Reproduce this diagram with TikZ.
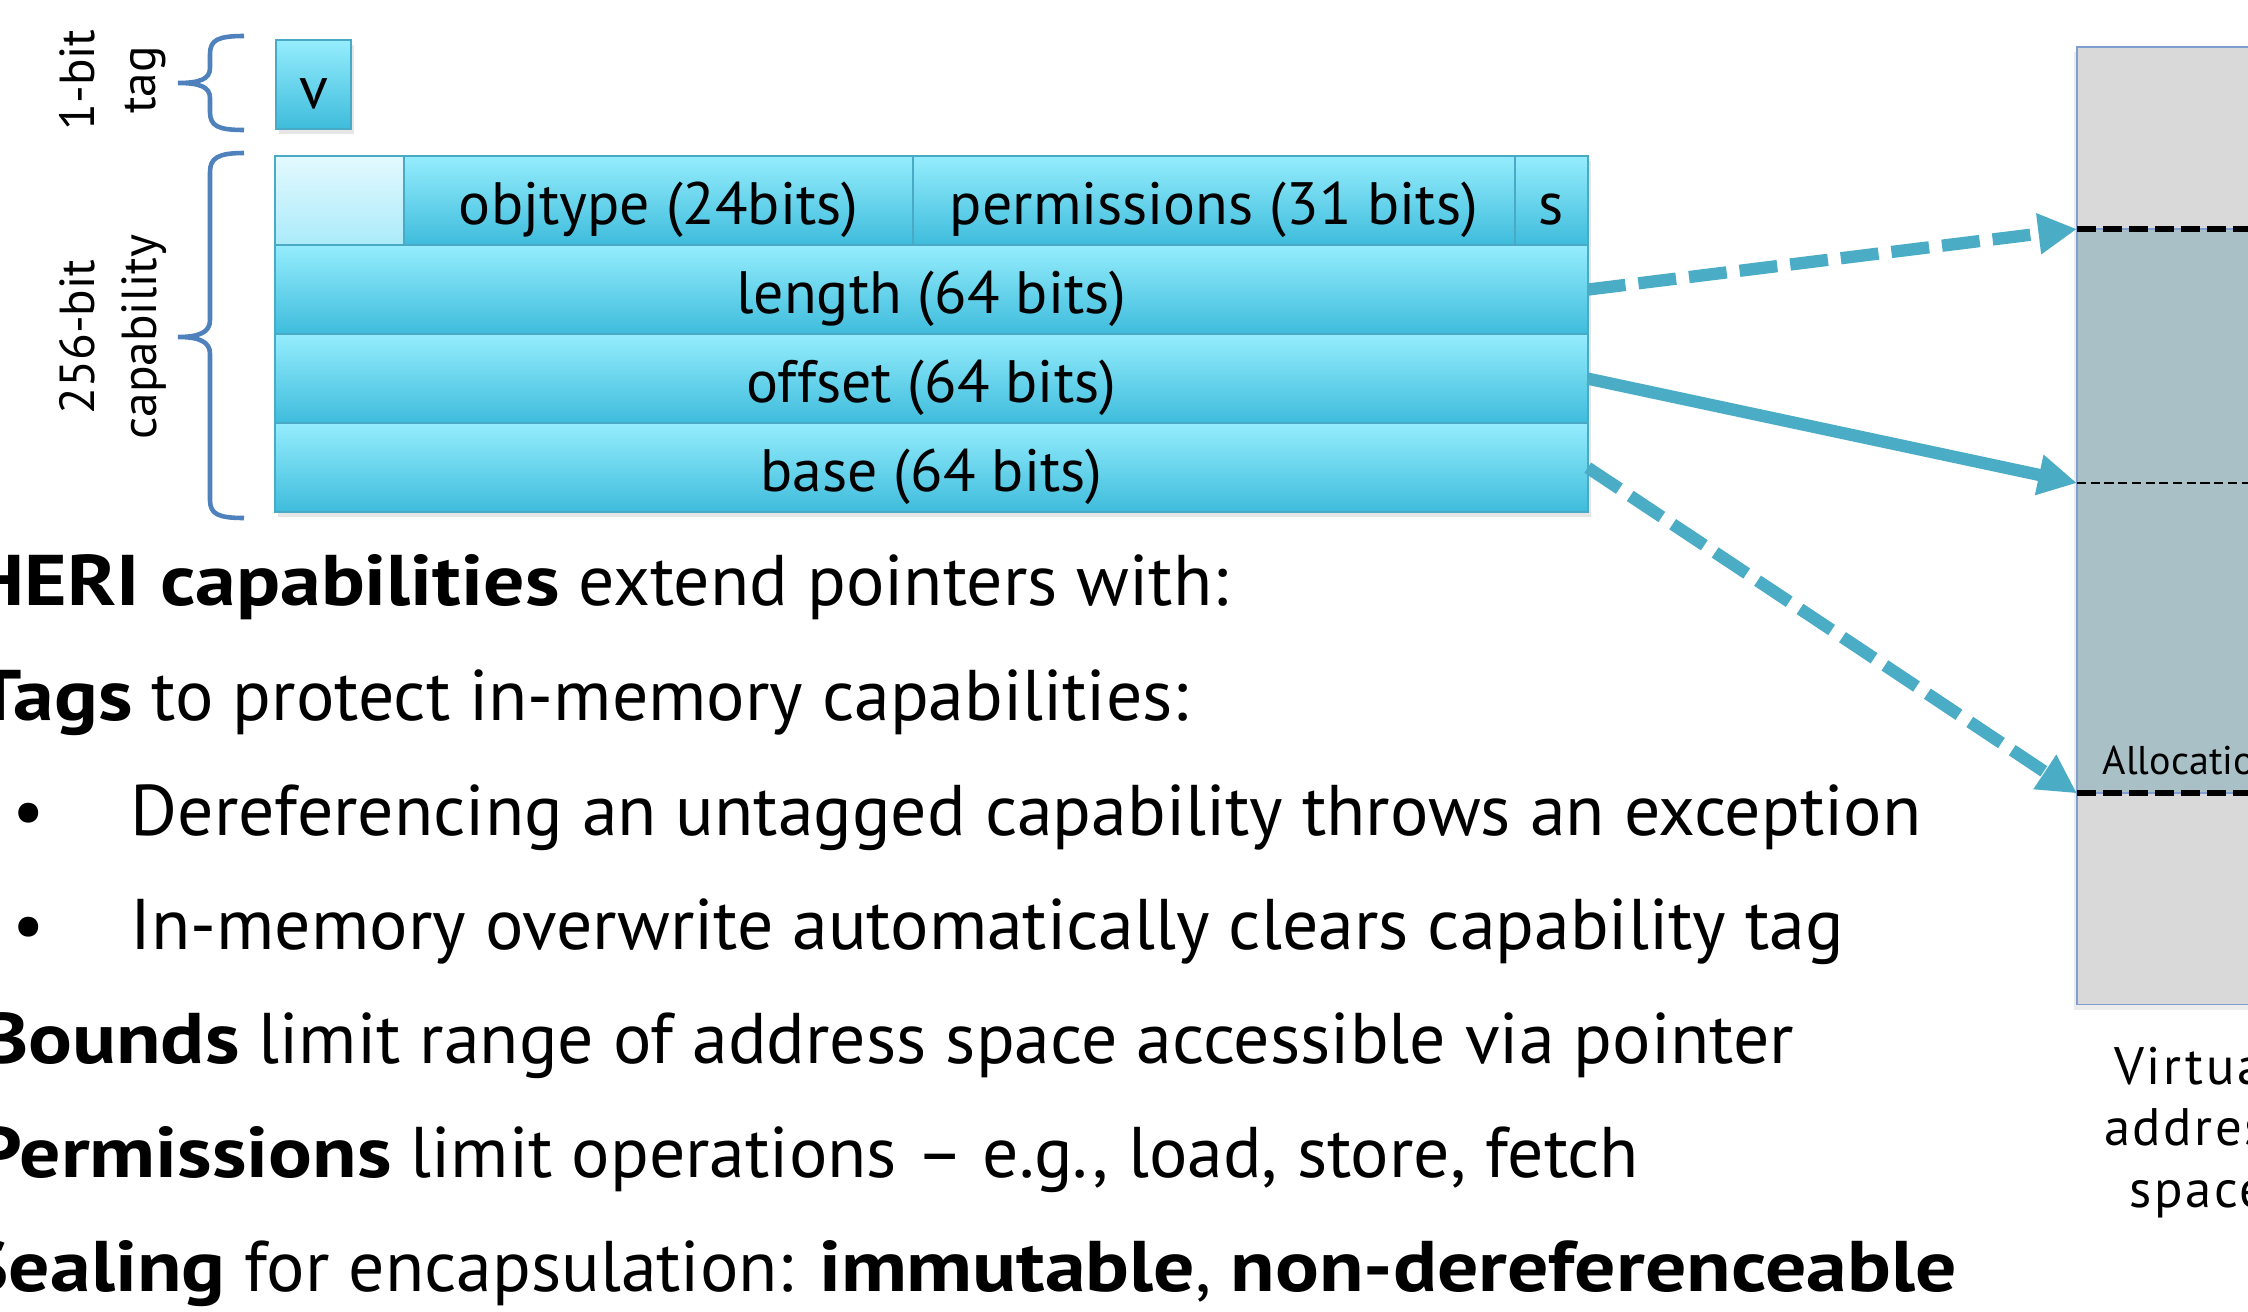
\documentclass[tikz,border=0pt]{standalone}
\usepackage{fontspec}
\setmainfont{PT Sans}[BoldFeatures={FakeStretch=1.14}]
\usetikzlibrary{positioning, arrows.meta, shadows}

\definecolor{cellhi}{HTML}{95EDFD}
\definecolor{cellmid}{HTML}{7FDFF5}
\definecolor{celllo}{HTML}{3EBCDC}
\definecolor{blankhi}{HTML}{E3F9FE}
\definecolor{blanklo}{HTML}{ABEBFA}
\definecolor{cellline}{HTML}{4AA9C4}
\definecolor{ptrblue}{HTML}{4BACC6}
\definecolor{bracecol}{HTML}{4F81BD}
\definecolor{memgray}{HTML}{D9D9D9}
\definecolor{memalloc}{HTML}{A9C0C6}
\definecolor{memedge}{HTML}{7F9FD0}

\tikzset{
  field/.style={draw=cellline, line width=0.6pt, top color=cellhi, middle color=cellmid, bottom color=celllo,
    minimum height=0.89cm, inner sep=0pt, outer sep=0pt, text height=15pt, text depth=1.4pt,
    drop shadow={opacity=0.2, shadow xshift=0.8pt, shadow yshift=-1.4pt},
    font=\fontsize{17}{20}\selectfont},
  blankfield/.style={field, top color=blankhi, middle color=blankhi!50!blanklo, bottom color=blanklo},
  ptr/.style={draw=ptrblue, line width=3.5pt, -{Triangle[length=11pt, width=11pt]}},
  ptrdash/.style={ptr, dash pattern=on 10.8pt off 3.7pt},
  capbrace/.style={draw=bracecol, line width=1.3pt},
  sidelabel/.style={rotate=90, align=center, inner sep=0pt, font=\fontsize{14}{17.4}\selectfont},
  textline/.style={anchor=base west, inner sep=0pt, font=\fontsize{20.4}{24}\selectfont},
  bound/.style={black, line width=1.7pt, dash pattern=on 5.4pt off 2pt},
  thinbound/.style={black, line width=0.7pt, dash pattern=on 2.6pt off 1.3pt},
  memblock/.style={draw=memedge, line width=0.5pt, inner sep=0pt, outer sep=0pt, anchor=north west, minimum width=3cm},
}

\begin{document}
\begin{tikzpicture}[x=0.01cm, y=-0.01cm]
  \useasboundingbox (0,0) rectangle (2248,1312);
  \clip (0,0) rectangle (2248,1312);

  % tag bit and capability fields
  \node[field, minimum width=0.75cm, anchor=north west] (vtag) at (276,40) {v};
  \node[blankfield, minimum width=1.29cm, anchor=north west] (cblank) at (275,156) {};
  \node[field, minimum width=5.09cm, right=0pt of cblank] (cotype) {objtype (24bits)};
  \node[field, minimum width=6.01cm, right=0pt of cotype] (cperms) {permissions (31 bits)};
  \node[field, minimum width=0.73cm, right=0pt of cperms] (csealed) {s};
  \node[field, minimum width=13.12cm, below right=0pt of cblank.south west] (clength) {length (64 bits)};
  \node[field, minimum width=13.12cm, below=0pt of clength] (coffset) {offset (64 bits)};
  \node[field, minimum width=13.12cm, below=0pt of coffset] (cbase) {base (64 bits)};

  % braces and their labels
  \node[sidelabel] (tagname) at (113,80) {1-bit\\tag};
  \node[sidelabel] (capname) at (113,337) {256-bit\\capability};
  \draw[capbrace] (244,36) .. controls (218,36) and (210,40) .. (210,54) -- (210,68)
    .. controls (210,79) and (200,83) .. (178,83) .. controls (200,83) and (210,87) .. (210,98)
    -- (210,112) .. controls (210,126) and (218,130) .. (244,130);
  \draw[capbrace] (244,153) .. controls (218,153) and (210,158) .. (210,172) -- (210,320)
    .. controls (210,332) and (200,337) .. (178,337) .. controls (200,337) and (210,342) .. (210,354)
    -- (210,500) .. controls (210,514) and (218,518) .. (244,518);

  % virtual address space
  \node[memblock, fill=memgray, minimum height=9.57cm,
    drop shadow={opacity=0.15, shadow xshift=-1pt, shadow yshift=-1.5pt}] (vas) at (2077,47) {};
  \node[memblock, fill=memalloc, minimum height=5.64cm] (alloc) at (2077,229) {};
  \coordinate (memcur) at (2077,483);
  \draw[bound] (alloc.north west) -- (alloc.north east);
  \draw[thinbound] (memcur) -- ++(300,0);
  \draw[bound] (alloc.south west) -- (alloc.south east);
  \node[anchor=base west, inner sep=0pt, font=\fontsize{11.4}{13}\selectfont] (alloclbl) at (2102,774) {Allocation};
  \node[anchor=north, align=center, inner sep=0pt, font=\fontsize{15}{17.6}\selectfont\addfontfeatures{LetterSpace=5}] (vaslbl) at (2198,1046) {Virtual\\address\\space};

  % pointers into memory
  \draw[ptrdash] (clength.east) -- (alloc.north west);
  \draw[ptr] (coffset.east) -- (memcur);
  \draw[ptrdash] (cbase.east) -- (alloc.south west);

  % bullet text
  \node[textline] (ln1) at (578,605) {\llap{\textbf{CHERI capabilities}\ }extend pointers with:};
  \node[textline] (ln2) at (151,720) {\llap{\textbf{Tags}\ }to protect in-memory capabilities:};
  \node[textline] (dot1) at (12,835) {•};
  \node[textline] (ln3) at (130,835) {Dereferencing an untagged capability throws an exception};
  \node[textline] (dot2) at (12,949) {•};
  \node[textline] (ln4) at (130,949) {In-memory overwrite automatically clears capability tag};
  \node[textline] (ln5) at (258,1063) {\llap{\textbf{Bounds}\ }limit range of address space accessible via pointer};
  \node[textline] (ln6) at (410,1177) {\llap{\textbf{Permissions}\ }limit operations -- e.g., load, store, fetch};
  \node[textline] (ln7) at (244,1291) {\llap{\textbf{Sealing}\ }for encapsulation: \textbf{immutable}, \textbf{non-dereferenceable}};
\end{tikzpicture}
\end{document}
